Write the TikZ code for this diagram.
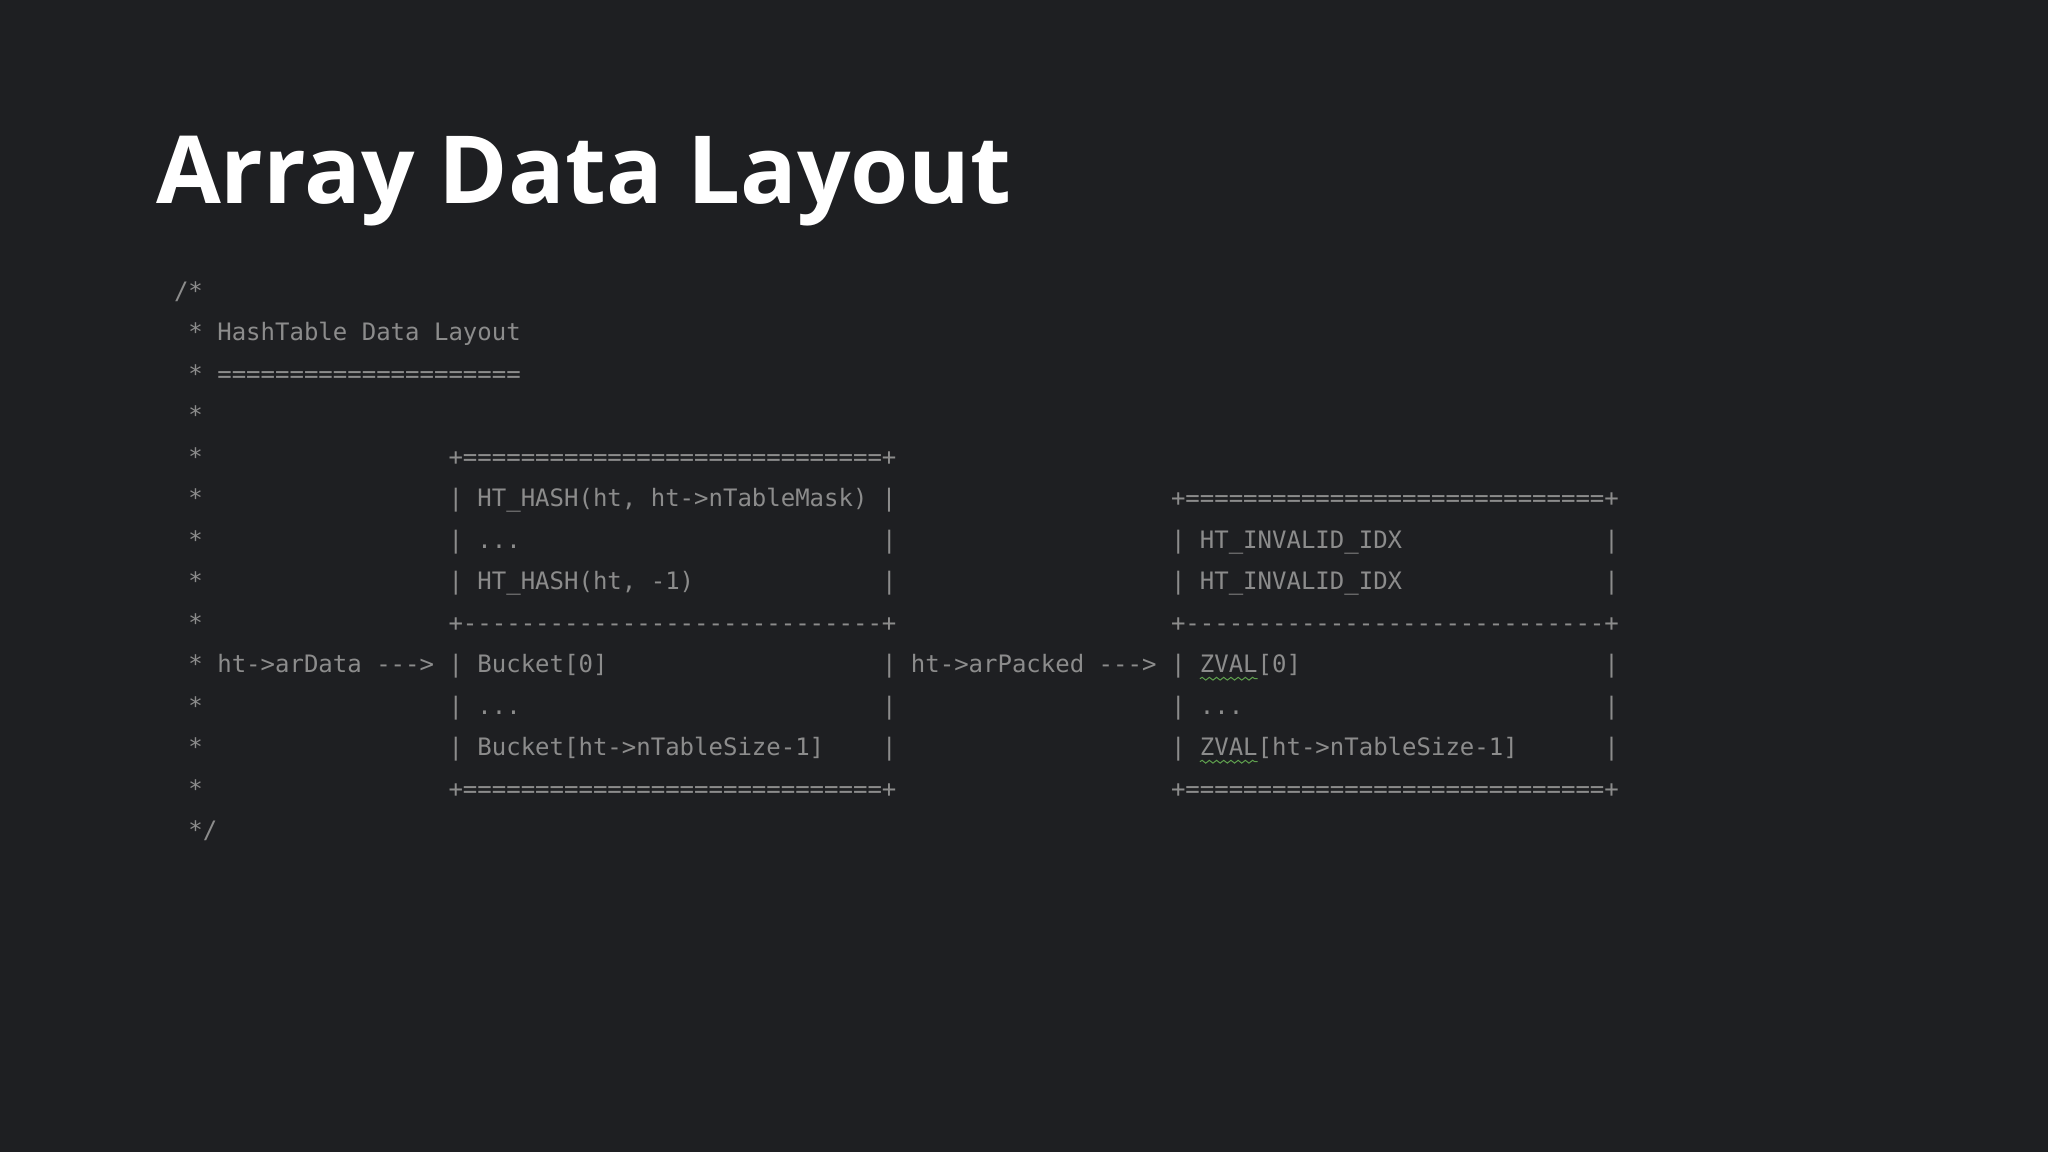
\documentclass[tikz,border=0pt]{standalone}
\usepackage{fontspec}
\setmonofont{DejaVu Sans Mono}
\newfontfamily\titlefont{Open Sans}
\usetikzlibrary{decorations.pathmorphing}
\definecolor{bgcol}{HTML}{1E1F22}
\definecolor{codegrey}{HTML}{8C8C8C}
\definecolor{squig}{HTML}{5FA04E}
\newcommand\codeat[3]{\node[code] (l#2c#1) at ({174+14.449*#1},{299.2+41.5*#2}) {#3};}
\newcommand\squigat[2]{\draw[squiggle] ({174+14.449*#1},{299.2+41.5*#2+6}) -- ({174+14.449*(#1+4)},{299.2+41.5*#2+6});}
\begin{document}
\begin{tikzpicture}[x=0.5pt,y=-0.5pt,
  code/.style={anchor=base west, inner sep=0pt, outer sep=0pt, text=codegrey,
    font=\ttfamily\fontsize{12}{14}\selectfont},
  titlestyle/.style={anchor=base west, inner sep=0pt, outer sep=0pt, text=white,
    font=\titlefont\bfseries\fontsize{47}{56}\selectfont},
  squiggle/.style={draw=squig, line width=0.5pt, decorate,
    decoration={snake, amplitude=0.7pt, segment length=3.6pt}}]
\fill[bgcol] (0,0) rectangle (2048,1152);
\useasboundingbox (0,0) rectangle (2048,1152);
\node[titlestyle] (title) at (156,203.3) {Array Data Layout};
\codeat{0}{0}{/*}
\codeat{1}{1}{*}\codeat{3}{1}{HashTable Data Layout}
\codeat{1}{2}{*}\codeat{3}{2}{=====================}
\codeat{1}{3}{*}
\codeat{1}{4}{*}\codeat{19}{4}{+=============================+}
\codeat{1}{5}{*}\codeat{19}{5}{| HT\_HASH(ht, ht->nTableMask) |}\codeat{69}{5}{+=============================+}
\codeat{1}{6}{*}\codeat{19}{6}{| ...}\codeat{49}{6}{|}\codeat{69}{6}{| HT\_INVALID\_IDX}\codeat{99}{6}{|}
\codeat{1}{7}{*}\codeat{19}{7}{| HT\_HASH(ht, -1)}\codeat{49}{7}{|}\codeat{69}{7}{| HT\_INVALID\_IDX}\codeat{99}{7}{|}
\codeat{1}{8}{*}\codeat{19}{8}{+-----------------------------+}\codeat{69}{8}{+-----------------------------+}
\codeat{1}{9}{* ht->arData --->}\codeat{19}{9}{| Bucket[0]}\codeat{49}{9}{| ht->arPacked --->}\codeat{69}{9}{| ZVAL[0]}\codeat{99}{9}{|}
\codeat{1}{10}{*}\codeat{19}{10}{| ...}\codeat{49}{10}{|}\codeat{69}{10}{| ...}\codeat{99}{10}{|}
\codeat{1}{11}{*}\codeat{19}{11}{| Bucket[ht->nTableSize-1]}\codeat{49}{11}{|}\codeat{69}{11}{| ZVAL[ht->nTableSize-1]}\codeat{99}{11}{|}
\codeat{1}{12}{*}\codeat{19}{12}{+=============================+}\codeat{69}{12}{+=============================+}
\codeat{1}{13}{*/}
\squigat{71}{9}
\squigat{71}{11}
\end{tikzpicture}
\end{document}
